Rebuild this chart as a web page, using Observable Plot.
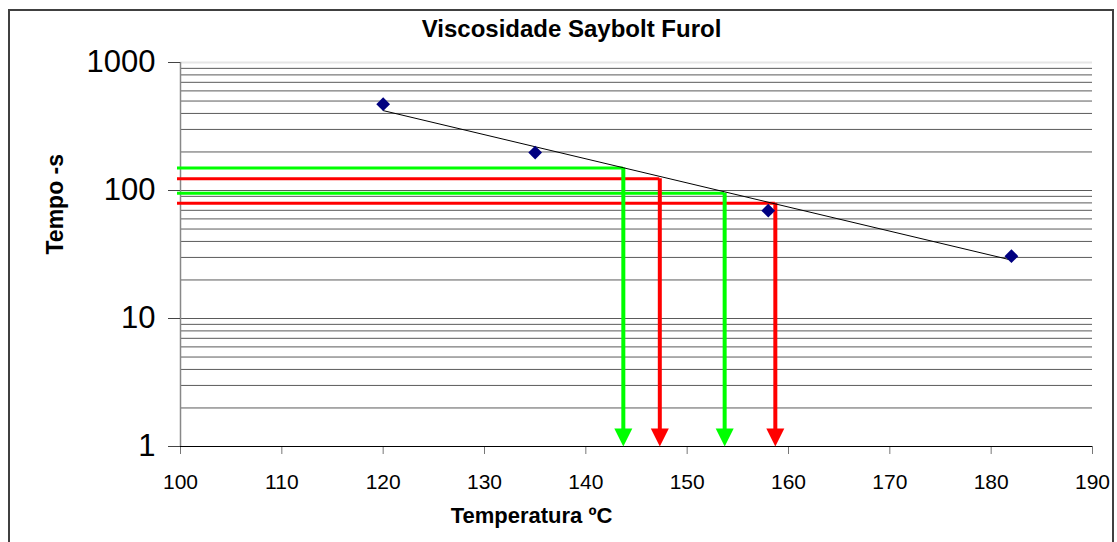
<!DOCTYPE html>
<html>
<head>
<meta charset="utf-8">
<script src="https://cdn.jsdelivr.net/npm/d3@7"></script>
<script src="https://cdn.jsdelivr.net/npm/@observablehq/plot@0.6"></script>
<style>
  body { margin: 0; background: #fff; }
  #wrap { position: relative; width: 1117px; height: 542px; overflow: hidden; background: #fff; font-family: Arial, "Liberation Sans", sans-serif; }
  #border { position: absolute; left: 8px; top: 9px; width: 1102px; height: 560px; border: 2px solid #404040; pointer-events: none; }
</style>
</head>
<body>
<div id="wrap"><div id="border"></div></div>
<script>
// Data
const tempPts = [120, 135, 158, 182];
const tempoPts = [472, 198, 69.5, 30.7];
const trendTemp = [120, 182];
const trendTempo = [421, 28.6];
const greenTemp = [143.7, 153.7];
const greenTempo = [150, 95.1];
const redTemp = [147.3, 158.7];
const redTempo = [123.7, 79.4];
const xTicks = [100, 110, 120, 130, 140, 150, 160, 170, 180, 190];
const yTicks = [1, 10, 100, 1000];
const gridVals = [2,3,4,5,6,7,8,9,10,20,30,40,50,60,70,80,90,100,200,300,400,500,600,700,800,900];

const titleText = "Viscosidade Saybolt Furol";
const xLabel = "Temperatura ºC";
const yLabel = "Tempo -s";

const points = tempPts.map((t, i) => ({t, v: tempoPts[i]}));
const trend = trendTemp.map((t, i) => ({t, v: trendTempo[i]}));
const greens = greenTemp.map((t, i) => ({t, v: greenTempo[i]}));
const reds = redTemp.map((t, i) => ({t, v: redTempo[i]}));

const arrowHead = {
  draw(ctx) {
    ctx.moveTo(0, 0);
    ctx.lineTo(-9, -18);
    ctx.lineTo(9, -18);
    ctx.closePath();
  }
};

const font = "Arial, 'Liberation Sans', sans-serif";

const chart = Plot.plot({
  width: 1117,
  height: 542,
  marginLeft: 180,
  marginRight: 25,
  marginTop: 62,
  marginBottom: 96,
  style: {fontFamily: font, background: "transparent", color: "#000", overflow: "visible"},
  x: {type: "linear", domain: [100, 190], axis: null},
  y: {type: "log", domain: [1, 1000], axis: null},
  marks: [
    // gridlines
    Plot.ruleY(gridVals, {stroke: "#5a5a5a", strokeWidth: 1}),
    Plot.ruleY([1000], {stroke: "#e6e6e6", strokeWidth: 2}),
    // axes
    Plot.ruleX([100], {stroke: "#888", strokeWidth: 1.5}),
    Plot.axisY(yTicks, {tickSize: 12, tickPadding: 13, fontSize: 31, stroke: "#444", tickFormat: d => String(d), label: null}),
    Plot.axisX(xTicks, {tickSize: 8, tickPadding: 20, fontSize: 21, stroke: "#777", tickFormat: d => String(d), label: null}),
    Plot.ruleY([1], {stroke: "#000", strokeWidth: 1.2}),
    // reference lines
    Plot.ruleY(greens, {y: "v", x1: 100, x2: "t", stroke: "#00FF00", strokeWidth: 3, insetLeft: -3}),
    Plot.ruleY(reds, {y: "v", x1: 100, x2: "t", stroke: "#FF0000", strokeWidth: 3, insetLeft: -3}),
    Plot.ruleX(greens, {x: "t", y1: "v", y2: 1, stroke: "#00FF00", strokeWidth: 4, insetBottom: 14}),
    Plot.ruleX(reds, {x: "t", y1: "v", y2: 1, stroke: "#FF0000", strokeWidth: 4, insetBottom: 14}),
    Plot.dot(greens, {x: "t", y: () => 1, symbol: arrowHead, r: 5, fill: "#00FF00", stroke: null}),
    Plot.dot(reds, {x: "t", y: () => 1, symbol: arrowHead, r: 5, fill: "#FF0000", stroke: null}),
    // trend line and data points
    Plot.line(trend, {x: "t", y: "v", stroke: "#000", strokeWidth: 1}),
    Plot.dot(points, {x: "t", y: "v", symbol: "diamond2", r: 6.2, fill: "#000080", stroke: null}),
    // titles
    Plot.text([titleText], {frameAnchor: "top", dx: -65, dy: -33, lineAnchor: "middle", fontSize: 24, fontWeight: "bold", fill: "#000"}),
    Plot.text([xLabel], {frameAnchor: "bottom", dx: -105, dy: 76, fontSize: 22, fontWeight: "bold", fill: "#000"}),
    Plot.text([yLabel], {frameAnchor: "left", dx: -125, rotate: -90, fontSize: 23, fontWeight: "bold", fill: "#000"})
  ]
});
chart.style.position = "absolute";
chart.style.left = "0px";
chart.style.top = "0px";
document.getElementById("wrap").appendChild(chart);
</script>
</body>
</html>
